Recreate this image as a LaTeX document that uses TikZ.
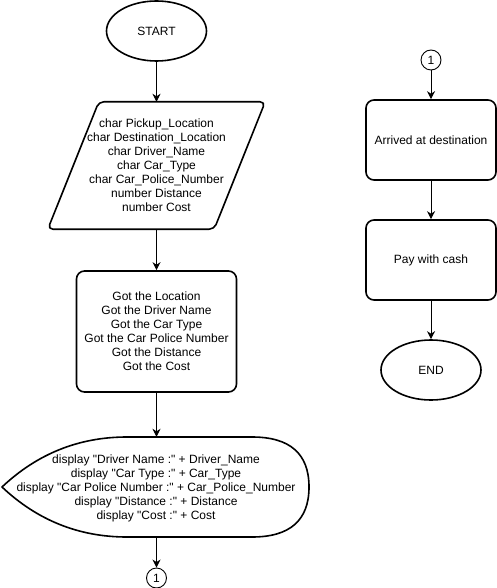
\documentclass[tikz,border=0pt]{standalone}
\usepackage{fontspec}
\setmainfont{Liberation Sans}[Ligatures=TeXOff]
\usetikzlibrary{arrows.meta,shapes.geometric}
\begin{document}
\begin{tikzpicture}[x=1pt,y=-1pt,
  every node/.style={font=\fontsize{12}{14}\selectfont, align=center, inner sep=0pt},
  shapeline/.style={line width=1.6pt, line join=round},
  term/.style={ellipse, draw, shapeline, fill=white, minimum width=100pt, minimum height=60pt},
  procbox/.style={rectangle, draw, shapeline, fill=white, rounded corners=8pt},
  plain/.style={rectangle, draw=none},
  conn/.style={circle, draw, line width=0.9pt, fill=white, minimum size=20pt},
  arr/.style={line width=0.9pt, -{Stealth[length=8pt,width=8pt,inset=2.5pt]}}
]
\fill[white] (0,0) rectangle (497,588);
\useasboundingbox (0,0) rectangle (497,588);

% left column
\node[term] (start) at (156.5,31) {START};

\node[plain, minimum width=217pt, minimum height=127pt] (inp) at (156.5,165.5) {};
\draw[shapeline, fill=white, rounded corners=5pt]
  ([xshift=51pt]inp.north west) -- (inp.north east) -- ([xshift=-51pt]inp.south east) -- (inp.south west) -- cycle;
\node at (inp.center) {char Pickup\_Location\\char Destination\_Location\\char Driver\_Name\\char Car\_Type\\char Car\_Police\_Number\\number Distance\\number Cost};

\node[procbox, minimum width=160pt, minimum height=121pt] (got) at (156.5,331.5)
  {Got the Location\\Got the Driver Name\\Got the Car Type\\Got the Car Police Number\\Got the Distance\\Got the Cost};

\node[plain, minimum width=307pt, minimum height=100pt] (disp) at (155.5,487) {};
\draw[shapeline, fill=white]
  (2,487) .. controls (37.3,453.7) and (79,437) .. (127,437)
  -- (252,437) .. controls (290,437) and (309,453.7) .. (309,487)
  .. controls (309,520.3) and (290,537) .. (252,537)
  -- (127,537) .. controls (79,537) and (37.3,520.3) .. cycle;
\node at (156,488) {display "Driver Name :" + Driver\_Name\\display "Car Type :" + Car\_Type\\display "Car Police Number :" + Car\_Police\_Number\\display "Distance :" + Distance\\display "Cost :" + Cost};

\node[conn] (c1) at (156.5,578) {1};

\draw[arr] (start.south) -- (start.south |- inp.north);
\draw[arr] (inp.south -| start.south) -- (got.north);
\draw[arr] (got.south) -- (got.south |- disp.north);
\draw[arr] (got.south |- disp.south) -- (c1.north);

% right column
\node[conn] (c2) at (431,60) {1};
\node[procbox, minimum width=130pt, minimum height=80pt] (arrive) at (431,140) {Arrived at destination};
\node[procbox, minimum width=130pt, minimum height=80pt] (pay) at (431,260) {Pay with cash};
\node[term] (end) at (431,370) {END};

\draw[arr] (c2.south) -- (arrive.north);
\draw[arr] (arrive.south) -- (pay.north);
\draw[arr] (pay.south) -- (end.north);
\end{tikzpicture}
\end{document}
